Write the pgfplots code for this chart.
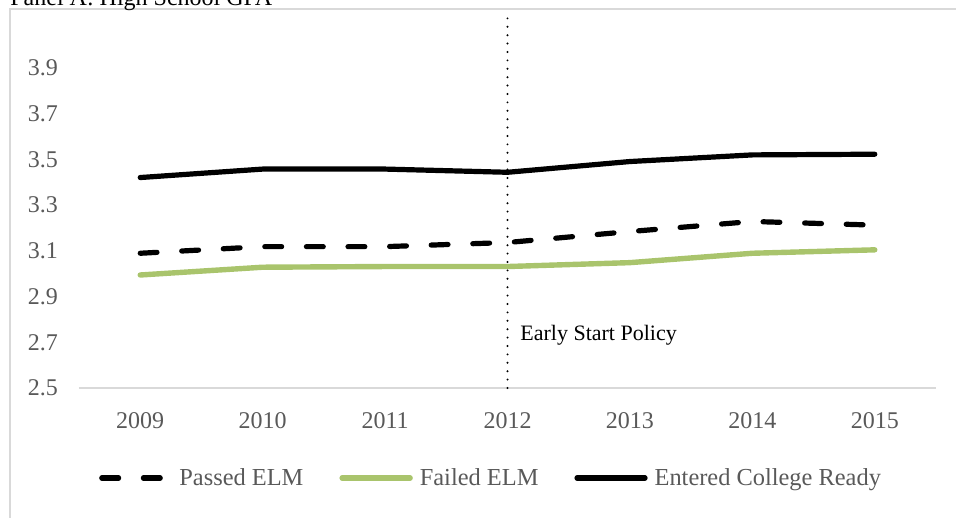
\documentclass[border=0pt]{standalone}
\usepackage{pgfplots}
\pgfplotsset{compat=1.18}
\usepackage{fontspec}
\setmainfont{Liberation Serif}
\definecolor{elmgreen}{HTML}{A9C46C}
\definecolor{txtgray}{HTML}{595959}
\definecolor{bordergray}{HTML}{D9D9D9}
\begin{document}
\begin{tikzpicture}[x=1pt,y=1pt]
\path[use as bounding box] (0,0) rectangle (478,259);
\draw[bordergray, line width=0.8pt] (5,-2) -- (5,254.5) -- (480,254.5);
\node[anchor=base west, inner sep=0, font=\fontsize{12}{14}\selectfont] at (5,256) {Panel A: High School GPA};
\begin{axis}[
  at={(39.5pt,65pt)}, anchor=south west, scale only axis,
  width=428.5pt, height=183pt,
  xmin=-0.5, xmax=6.5, ymin=2.5, ymax=4.1,
  xtick={0,1,2,3,4,5,6},
  xticklabels={2009,2010,2011,2012,2013,2014,2015},
  ytick={2.5,2.7,2.9,3.1,3.3,3.5,3.7,3.9},
  axis x line*=bottom, axis y line*=left,
  x axis line style={draw=bordergray, line width=0.75pt, -},
  y axis line style={draw=none},
  major tick length=0pt, tick style={draw=none},
  tick label style={font=\fontsize{12}{14}\selectfont, text=txtgray},
  yticklabel style={xshift=-7pt},
  xticklabel style={yshift=-8.6pt},
  /pgf/number format/.cd, fixed, fixed zerofill, precision=1, assume math mode=true,
  /pgfplots/.cd,
  clip=false,
  legend columns=3,
  legend style={at={(0.482,-0.246)}, anchor=center, draw=none, fill=none,
    font=\fontsize{12.2}{14}\selectfont, text=txtgray,
    /tikz/every even column/.append style={column sep=16pt},
    /tikz/every odd column/.append style={column sep=1.5pt}},
  legend image code/.code={\draw[#1] (0pt,0pt) -- (34pt,0pt);},
]
\addplot[black, line width=2.6pt, line cap=round, line join=round, dash pattern=on 8.4pt off 12.4pt]
  coordinates {(0,3.089) (1,3.118) (2,3.118) (3,3.136) (4,3.184) (5,3.228) (6,3.212)};
\addlegendentry{Passed ELM}
\addplot[elmgreen, line width=2.7pt, line cap=round, line join=round]
  coordinates {(0,2.994) (1,3.028) (2,3.031) (3,3.031) (4,3.048) (5,3.089) (6,3.104)};
\addlegendentry{Failed ELM}
\addplot[black, line width=2.6pt, line cap=round, line join=round]
  coordinates {(0,3.420) (1,3.457) (2,3.457) (3,3.443) (4,3.490) (5,3.519) (6,3.522)};
\addlegendentry{Entered College Ready}
\addplot[black, line width=1.1pt, line cap=round, dash pattern=on 0pt off 4.2pt, forget plot]
  coordinates {(3,2.5) (3,4.15)};
\node[anchor=west, inner sep=0, font=\fontsize{11}{13}\selectfont] at (axis cs:3.102,2.732) {Early Start Policy};
\end{axis}
\end{tikzpicture}
\end{document}
